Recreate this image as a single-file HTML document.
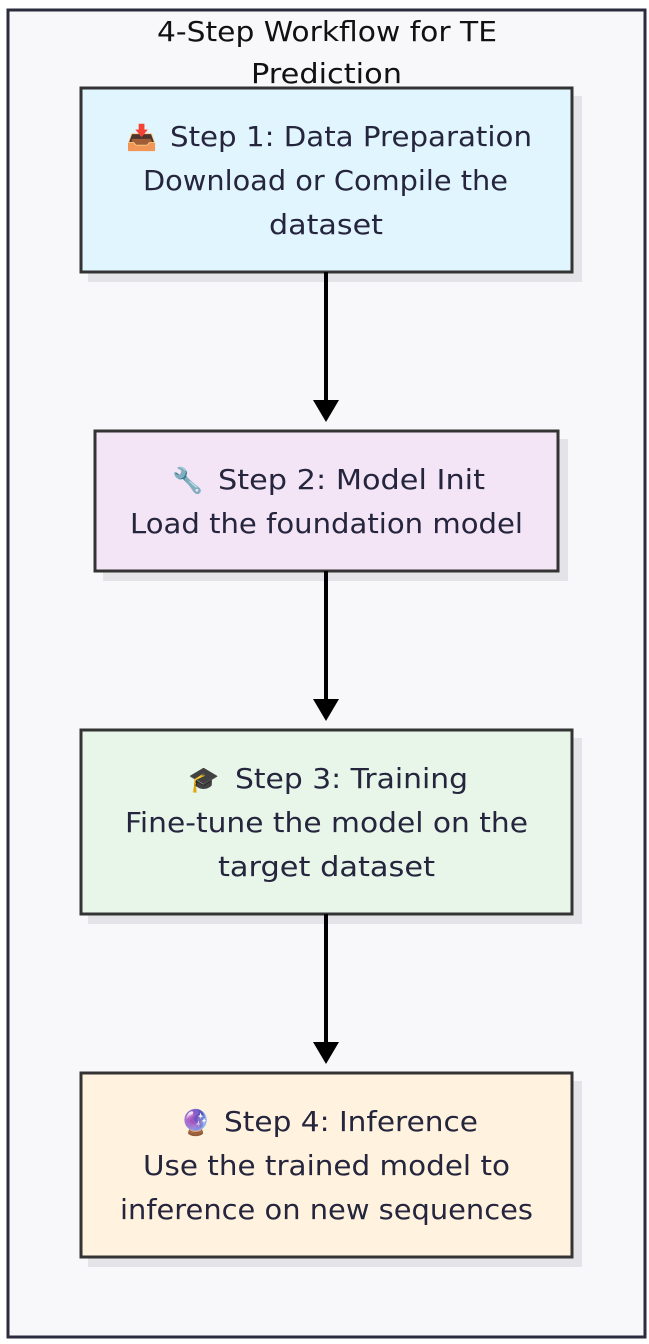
<!DOCTYPE html>
<html><head><meta charset="utf-8"><style>
html,body{margin:0;padding:0;background:#fff;}
svg{display:block;}
text{font-family:"DejaVu Sans","Liberation Sans",sans-serif;font-size:28px;fill:#25253d;}
.e{font-size:25px;}
</style></head><body>
<svg width="649" height="1344" viewBox="0 0 649 1344" xmlns="http://www.w3.org/2000/svg">
<rect x="8" y="10" width="637" height="1327" fill="#f8f8fb" stroke="#2b2b3d" stroke-width="3"/>
<text x="157" y="41" textLength="340" lengthAdjust="spacingAndGlyphs" style="fill:#111">4-Step Workflow for TE</text>
<text x="251" y="83" textLength="151" lengthAdjust="spacingAndGlyphs" style="fill:#111">Prediction</text>

<g fill="#e4e4e8">
<rect x="88" y="96" width="494" height="186"/>
<rect x="103" y="439" width="465" height="142"/>
<rect x="88" y="738" width="494" height="186"/>
<rect x="88" y="1081" width="494" height="186"/>
</g>
<g stroke="#333" stroke-width="3">
<rect x="81" y="88" width="491" height="184" fill="#e1f5fe"/>
<rect x="95" y="431" width="463" height="140" fill="#f3e5f5"/>
<rect x="81" y="730" width="491" height="184" fill="#e8f5e9"/>
<rect x="81" y="1073" width="491" height="184" fill="#fff3e0"/>
</g>
<g stroke="#000" stroke-width="4">
<line x1="326" y1="272" x2="326" y2="402"/>
<line x1="326" y1="571" x2="326" y2="701"/>
<line x1="326" y1="914" x2="326" y2="1044"/>
</g>
<g fill="#000">
<polygon points="313,400 339,400 326,422"/>
<polygon points="313,699 339,699 326,721"/>
<polygon points="313,1042 339,1042 326,1064"/>
</g>

<text class="e" x="126" y="146">📥</text>
<text x="170" y="146" textLength="362" lengthAdjust="spacingAndGlyphs">Step 1: Data Preparation</text>
<text x="143" y="190" textLength="365" lengthAdjust="spacingAndGlyphs">Download or Compile the</text>
<text x="269" y="234" textLength="114" lengthAdjust="spacingAndGlyphs">dataset</text>

<text class="e" x="172" y="489">🔧</text>
<text x="218" y="489" textLength="267" lengthAdjust="spacingAndGlyphs">Step 2: Model Init</text>
<text x="130" y="533" textLength="393" lengthAdjust="spacingAndGlyphs">Load the foundation model</text>

<text class="e" x="188" y="788">🎓</text>
<text x="235" y="788" textLength="233" lengthAdjust="spacingAndGlyphs">Step 3: Training</text>
<text x="125" y="832" textLength="403" lengthAdjust="spacingAndGlyphs">Fine-tune the model on the</text>
<text x="218" y="876" textLength="217" lengthAdjust="spacingAndGlyphs">target dataset</text>

<text class="e" x="180" y="1131">🔮</text>
<text x="224" y="1131" textLength="254" lengthAdjust="spacingAndGlyphs">Step 4: Inference</text>
<text x="143" y="1175" textLength="367" lengthAdjust="spacingAndGlyphs">Use the trained model to</text>
<text x="120" y="1219" textLength="413" lengthAdjust="spacingAndGlyphs">inference on new sequences</text>
</svg>
</body></html>
